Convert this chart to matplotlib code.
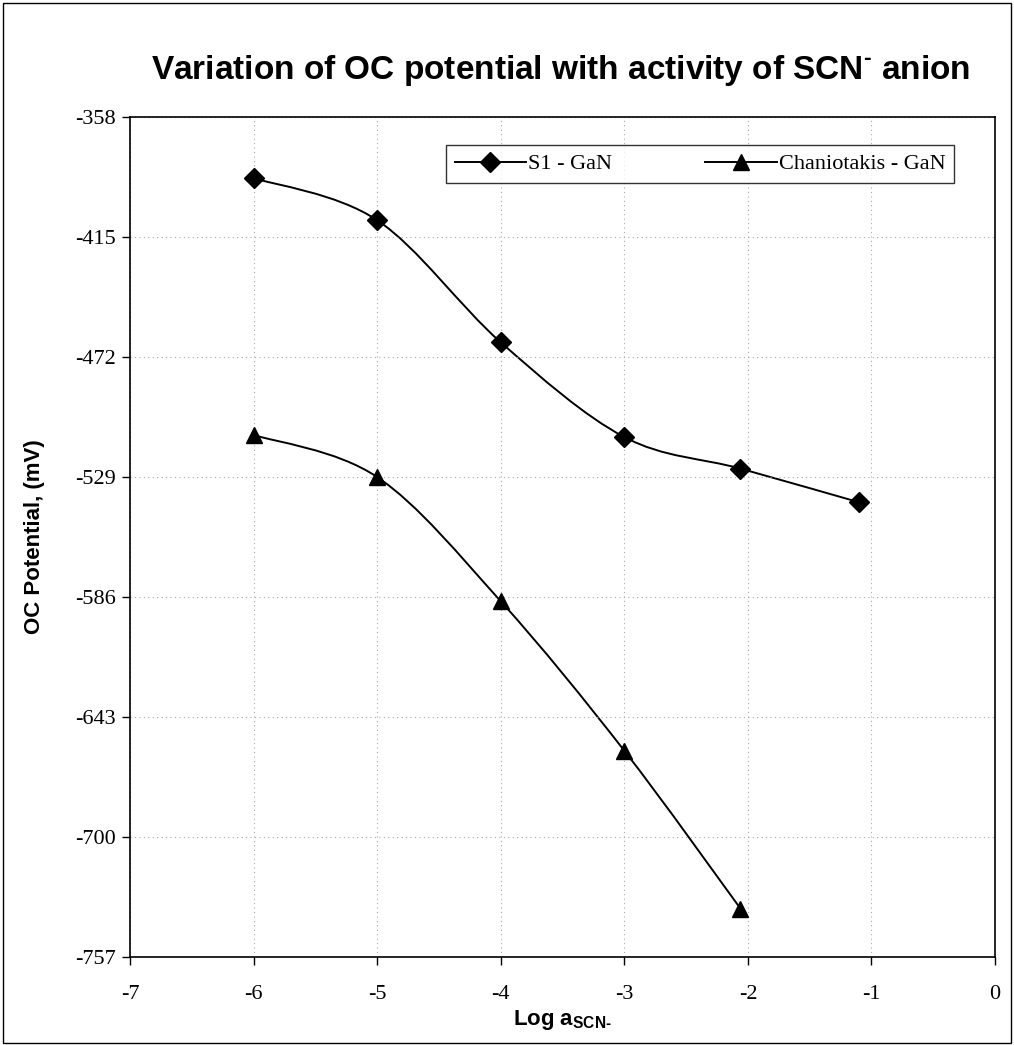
import matplotlib.pyplot as plt
import numpy as np
from matplotlib.patches import PathPatch, Rectangle
from matplotlib.path import Path
from matplotlib.lines import Line2D

S1_X = [-6, -5, -4, -3, -2.06, -1.1]
S1_Y = [-387, -407, -465, -510, -525, -541]
CH_X = [-6, -5, -4, -3, -2.06]
CH_Y = [-509, -529, -588, -659, -734]
Y_TICKS = [-358, -415, -472, -529, -586, -643, -700, -757]
X_TICKS = [-7, -6, -5, -4, -3, -2, -1, 0]

SERIF = "Liberation Serif"
SANS = "Liberation Sans"

plt.rcParams["mathtext.fontset"] = "custom"
plt.rcParams["mathtext.rm"] = "Liberation Sans:bold"
plt.rcParams["mathtext.bf"] = "Liberation Sans:bold"


def smooth_path(xs, ys):
    # Excel-like smoothed line: cubic Bezier segments with Catmull-Rom control points
    pts = np.column_stack([xs, ys]).astype(float)
    n = len(pts)
    verts = [pts[0]]
    codes = [Path.MOVETO]
    for i in range(n - 1):
        p0 = pts[i - 1] if i > 0 else pts[i]
        p1, p2 = pts[i], pts[i + 1]
        p3 = pts[i + 2] if i + 2 < n else pts[i + 1]
        c1 = p1 + (p2 - p0) / 6
        c2 = p2 - (p3 - p1) / 6
        verts += [c1, c2, p2]
        codes += [Path.CURVE4] * 3
    return Path(verts, codes)


fig = plt.figure(figsize=(10.14, 10.45), dpi=100)
ax = fig.add_axes([0.1282, 0.0842, 0.8531, 0.8038])

for xs, ys, mk, ms in [(S1_X, S1_Y, "D", 10), (CH_X, CH_Y, "^", 12)]:
    ax.add_patch(PathPatch(smooth_path(xs, ys), facecolor="none", edgecolor="black", lw=1.4))
    ax.plot(xs, ys, linestyle="none", marker=mk, ms=ms, color="black")

ax.set_xlim(-7, 0)
ax.set_ylim(-757, -358)
ax.set_xticks(X_TICKS)
ax.set_yticks(Y_TICKS)
ax.set_xticklabels([str(v) for v in X_TICKS], fontfamily=SERIF, fontsize=16)
ax.set_yticklabels([str(v) for v in Y_TICKS], fontfamily=SERIF, fontsize=16)
ax.tick_params(axis="y", direction="out", length=6, width=1, pad=4)
ax.tick_params(axis="x", direction="out", length=6, width=1, pad=14)
ax.grid(True, color="#aaaaaa", linestyle=(0, (1, 3)), linewidth=0.8)
for sp in ax.spines.values():
    sp.set_linewidth(1.2)

ax.set_ylabel("OC Potential, (mV)", fontfamily=SANS, fontweight="bold", fontsize=16, labelpad=22)
ax.set_xlabel(r"Log a$_{\mathbf{SCN\text{-}}}$", fontfamily=SANS, fontweight="bold", fontsize=16, labelpad=3)
fig.text(0.553, 0.933, r"Variation of OC potential with activity of SCN$^{\text{-}}$ anion",
         ha="center", va="center", fontfamily=SANS, fontweight="bold", fontsize=24)

handles = [
    Line2D([], [], color="black", marker="D", ms=10, lw=1.4),
    Line2D([], [], color="black", marker="^", ms=12, lw=1.4),
]
leg = ax.legend(handles, ["S1 - GaN", "Chaniotakis - GaN"], loc="upper right", ncol=2,
                prop={"family": SERIF, "size": 16}, frameon=True, fancybox=False,
                edgecolor="black", bbox_to_anchor=(0.958, 0.972), handlelength=3.2,
                columnspacing=4.2, handletextpad=0.1, borderpad=0.4, borderaxespad=0.2)
leg.get_frame().set_linewidth(1.0)

fig.patches.append(Rectangle((0.003, 0.002), 0.994, 0.995, transform=fig.transFigure,
                             fill=False, edgecolor="black", lw=1.0))

fig.savefig("out.png", dpi=100)
